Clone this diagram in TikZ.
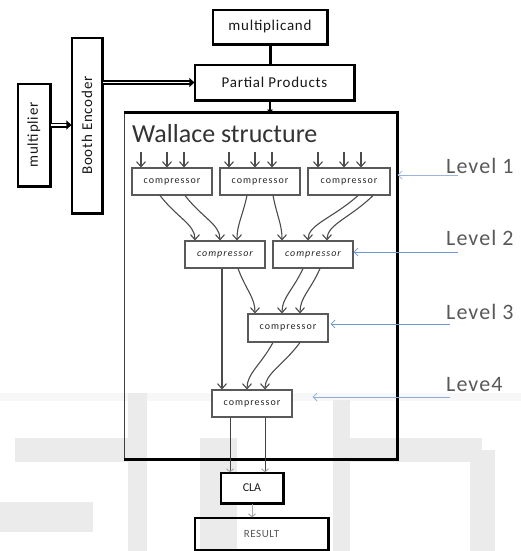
\documentclass[tikz,border=0pt]{standalone}
\usepackage{fontspec}
\setmainfont{Carlito}
\newfontfamily\lsfont[LetterSpace=5]{Carlito}
\newfontfamily\compfont[LetterSpace=10]{Carlito}
\usetikzlibrary{arrows.meta,calc}
\definecolor{lvlblue}{HTML}{6F97CF}
\begin{document}
\begin{tikzpicture}[x=1pt,y=1pt,
  bigbox/.style={draw=black, line width=1.2pt, inner sep=0pt, text=black!90},
  cbox/.style={draw=black!65, line width=1.1pt, fill=white, minimum width=80pt, minimum height=27pt, inner sep=0pt, font=\compfont\fontsize{10}{12}\selectfont, text=black!85},
  arr/.style={draw=black!70, line width=1.1pt, -{Straight Barb[length=5pt,width=9pt]}},
  curv/.style={to path={.. controls ($(\tikztostart)!0.5!(\tikztotarget)$) and ($(\tikztotarget)+(0,16)$) .. (\tikztotarget) \tikztonodes}},
  dbl/.style={draw=black, double=white, double distance=1.4pt, line width=1.8pt, -{Triangle[length=5pt,width=9pt]}},
  lvl/.style={text=black!65, font=\lsfont\fontsize{22}{24}\selectfont, inner sep=0pt},
  larr/.style={draw=lvlblue, line width=0.8pt, -{Straight Barb[length=4pt,width=8pt]}},
  wm/.style={fill=black!8, draw=none}
]
\useasboundingbox (0,0) rectangle (521,-551);
\fill[white] (0,0) rectangle (521,-551);
% watermark
\fill[black!3] (0,-393) rectangle (521,-401);
\fill[wm] (15,-438) rectangle (128,-462);
\fill[wm] (128,-393) rectangle (147,-551);
\fill[wm] (0,-502) rectangle (93,-532);
\fill[wm] (200,-438) rectangle (237,-551);
\fill[wm] (333,-400) rectangle (350,-551);
\fill[wm] (333,-438) rectangle (482,-462);
\fill[wm] (470,-450) rectangle (495,-551);

% outer boxes
\node[bigbox, minimum width=114pt, minimum height=34pt, font=\lsfont\fontsize{15}{17}\selectfont, fill=white] (mcand) at (270,-27) {multiplicand};
\node[bigbox, minimum width=159pt, minimum height=35pt, font=\lsfont\fontsize{15}{17}\selectfont, fill=white] (pp) at (274.5,-82.5) {Partial Products};
\node[bigbox, minimum width=30pt, minimum height=175pt, font=\lsfont\fontsize{15}{17}\selectfont, fill=white] (booth) at (87,-125.5) {\rotatebox{90}{Booth Encoder}};
\node[bigbox, minimum width=32pt, minimum height=102pt, font=\lsfont\fontsize{15}{17}\selectfont, fill=white] (mult) at (34,-135) {\rotatebox{90}{multiplier}};
\node[draw=black!75, line width=1pt, minimum width=273pt, minimum height=346pt, inner sep=0pt] (wal) at (260.5,-286) {};
\node[anchor=west, inner sep=0pt, text=black!80, font=\fontsize{26}{28}\selectfont] (waltxt) at (132,-134) {Wallace structure};
\node[bigbox, fill=white, minimum width=62pt, minimum height=30pt, font=\fontsize{12}{14}\selectfont] (cla) at (252,-488) {CLA};
\node[bigbox, minimum width=133pt, minimum height=32pt, font=\lsfont\fontsize{11}{13}\selectfont, text=black!65] (result) at (261.5,-534) {RESULT};

\foreach \n in {mcand,pp,booth,mult,cla,result}
  \draw[line width=2.4pt] (\n.north east) -- (\n.south east) -- (\n.south west);
\draw[line width=2.2pt] (wal.north west) -- (wal.north east) -- (wal.south east) -- (wal.south west);

% compressors
\node[cbox] (c1) at (172,-181.5) {compressor};
\node[cbox] (c2) at (260,-181.5) {compressor};
\node[cbox, minimum width=82pt] (c3) at (349,-181.5) {compressor};
\node[cbox, font=\compfont\itshape\fontsize{10}{12}\selectfont] (c4) at (225,-254.5) {compressor};
\node[cbox, font=\compfont\itshape\fontsize{10}{12}\selectfont] (c5) at (313,-254.5) {compressor};
\node[cbox, minimum height=28pt] (c6) at (288,-328) {compressor};
\node[cbox] (c7) at (252,-403.5) {compressor};

% top connectors
\draw[dbl] ([yshift=10pt]mult.east) -- ([yshift=10pt]mult.east -| booth.west);
\draw[dbl] (booth.east |- pp.west) -- (pp.west);
\draw[line width=3pt] (mcand.south) -- (mcand.south |- pp.north);
\draw[line width=2.4pt, -{Triangle[length=3pt,width=6pt]}] (mcand.south |- pp.south) -- (mcand.south |- wal.north);

% level 1 inputs
\foreach \c in {c1,c2,c3}
  \foreach \d in {-31,-5,12}
    \draw[arr] ([shift={(\d,15)}]\c.north) -- ([xshift=\d]\c.north);

% level 1 -> level 2
\draw[arr] ([xshift=-12]c1.south) to[curv] ([xshift=-30]c4.north);
\draw[arr] ([xshift=13]c1.south) to[curv] ([xshift=-5]c4.north);
\draw[arr] ([xshift=-13]c2.south) to[curv] ([xshift=12]c4.north);
\draw[arr] ([xshift=13]c2.south) to[curv] ([xshift=-31]c5.north);
\draw[arr] ([xshift=9]c3.south) to[curv] ([xshift=-5]c5.north);
\draw[arr] ([xshift=24]c3.south) to[curv] ([xshift=14]c5.north);

% level 2 -> level 3 / level 4
\draw[arr] ([xshift=13]c4.south) to[curv] ([xshift=-33]c6.north);
\draw[arr] ([xshift=-10]c5.south) to[curv] ([xshift=-6]c6.north);
\draw[arr] ([xshift=7]c5.south) to[curv] ([xshift=12]c6.north);
\draw[arr] ([xshift=-3]c4.south) -- ([xshift=-3]c4.south |- c7.north);

% level 3 -> level 4
\draw[arr] ([xshift=-15]c6.south) to[curv] ([xshift=-5]c7.north);
\draw[arr] ([xshift=12]c6.south) to[curv] ([xshift=13]c7.north);

% level 4 -> CLA -> RESULT
\draw[draw=black!75, line width=1pt, -{Straight Barb[length=3pt,width=7pt,color=black!35]}] ([xshift=-22]c7.south) -- ([xshift=-22]c7.south |- cla.north);
\draw[draw=black!75, line width=1pt, -{Straight Barb[length=3pt,width=7pt,color=black!35]}] ([xshift=13]c7.south) -- ([xshift=13]c7.south |- cla.north);
\draw[draw=black!35, line width=1pt, -{Straight Barb[length=3pt,width=7pt]}] (cla.south) -- (cla.south |- result.north);

% level labels
\node[lvl, anchor=west] (lv1) at (446,-166) {Level 1};
\node[lvl, anchor=west] (lv2) at (446,-238) {Level 2};
\node[lvl, anchor=west] (lv3) at (446,-312) {Level 3};
\node[lvl, anchor=west] (lv4) at (446,-385) {Leve4};
\coordinate (a1) at (458,-175);
\coordinate (a2) at (458,-252);
\coordinate (a3) at (450,-324);
\coordinate (a4) at (450,-397);
\draw[larr, draw=lvlblue!70] (a1) -- (a1 -| wal.east);
\draw[larr] (a2) -- (a2 -| c5.east);
\draw[larr, shorten >=2pt] (a3) -- (a3 -| c6.east);
\draw[larr, draw=lvlblue!80, shorten >=20pt] (a4) -- (a4 -| c7.east);
\end{tikzpicture}
\end{document}
